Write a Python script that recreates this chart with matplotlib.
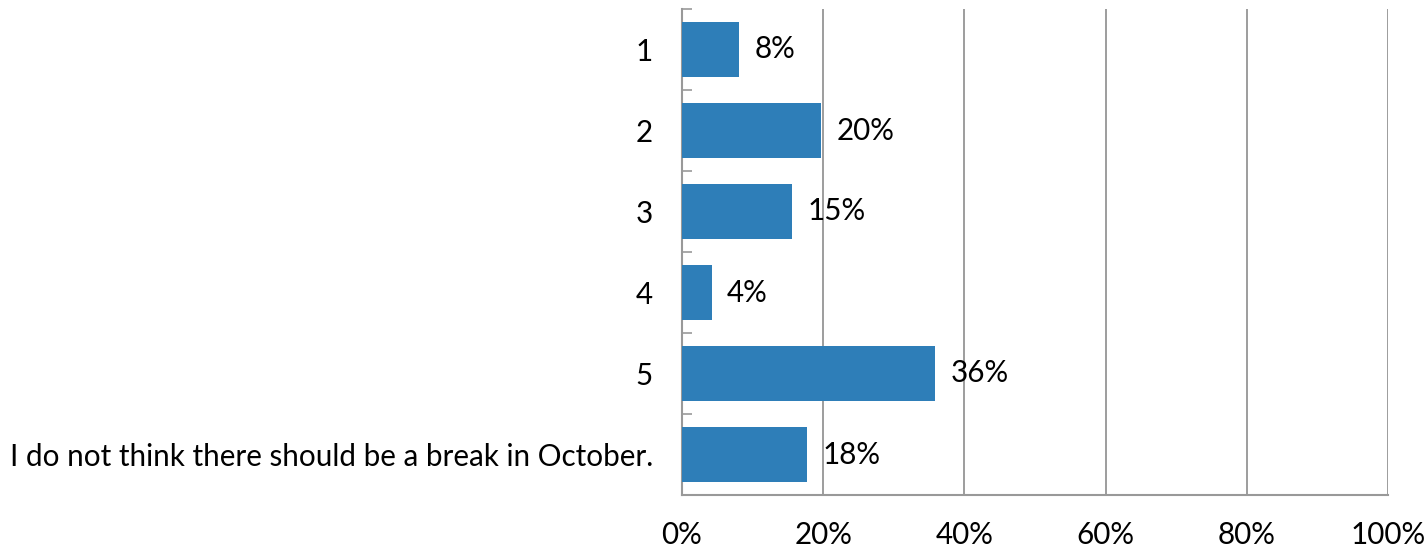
import numpy as np
import matplotlib.pyplot as plt

# categories top to bottom
categories = ["1", "2", "3", "4", "5", "I do not think there should be a break in October."]
shares = [8.1, 19.7, 15.6, 4.2, 35.8, 17.7]  # percent of responses
share_labels = ["8%", "20%", "15%", "4%", "36%", "18%"]
x_ticks = [0, 20, 40, 60, 80, 100]

plt.rcParams["font.family"] = ["Lato", "DejaVu Sans"]
fs = 21.3

fig = plt.figure(figsize=(14.27, 5.5), dpi=100)
ax = fig.add_axes([682 / 1427, 55 / 550, 706 / 1427, 486 / 550])

pos = np.arange(len(categories))
ax.barh(pos, shares, height=0.68, color="#2E7EB8", zorder=3)

for p, v, lab in zip(pos, shares, share_labels):
    ax.text(v + 2.2, p, lab, va="center", ha="left", fontsize=fs, zorder=4)

ax.set_ylim(len(categories) - 0.5, -0.5)
ax.set_xlim(0, 100)
ax.set_yticks(pos)
ax.set_yticklabels(categories, fontsize=fs)
ax.set_yticks(np.arange(len(categories) + 1) - 0.5, minor=True)
ax.tick_params(axis="y", which="major", length=0, pad=21)
ax.tick_params(axis="y", which="minor", direction="in", length=7, width=1.2, color="#999999")

ax.set_xticks(x_ticks)
ax.set_xticklabels([f"{t}%" for t in x_ticks], fontsize=fs)
ax.tick_params(axis="x", length=0, pad=19)
ax.grid(axis="x", color="#8c8c8c", linewidth=1.2, zorder=0)

for side in ["top", "right"]:
    ax.spines[side].set_visible(False)
for side in ["left", "bottom"]:
    ax.spines[side].set_color("#999999")
    ax.spines[side].set_linewidth(1.5)

fig.savefig("out.png", dpi=100)
